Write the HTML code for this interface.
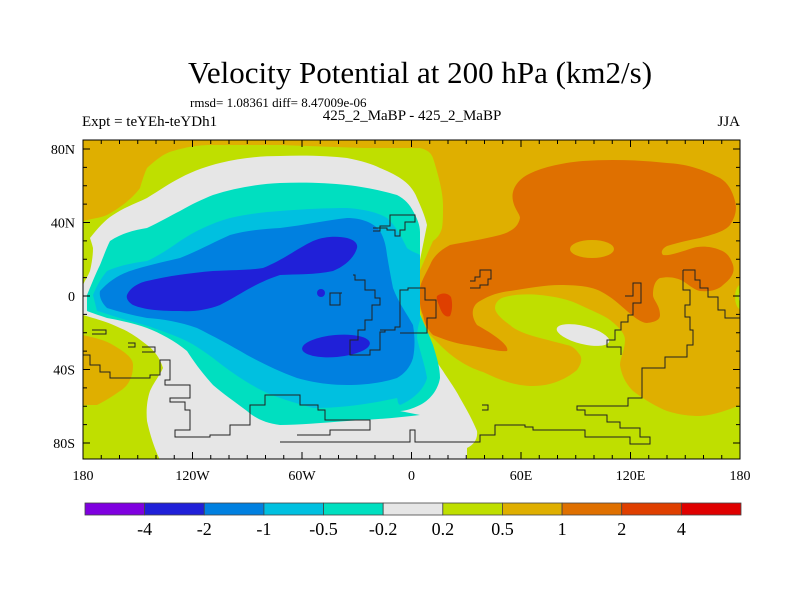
<!DOCTYPE html>
<html><head><meta charset="utf-8"><style>
html,body{margin:0;padding:0;background:#fff;}
svg{display:block;font-family:"Liberation Serif",serif;}
</style></head><body>
<svg id="chart" width="800" height="600" viewBox="0 0 800 600" xmlns="http://www.w3.org/2000/svg">
<text x="420" y="83" font-size="31" text-anchor="middle">Velocity Potential at 200 hPa (km2/s)</text>
<text x="190" y="107" font-size="13">rmsd= 1.08361 diff= 8.47009e-06</text>
<text x="82" y="126" font-size="15">Expt = teYEh-teYDh1</text>
<text x="412" y="120" font-size="15" text-anchor="middle">425_2_MaBP - 425_2_MaBP</text>
<text x="740" y="126" font-size="15" text-anchor="end">JJA</text>
<defs><clipPath id="pc"><rect x="83" y="140" width="657" height="319"/></clipPath></defs>
<g id="map" clip-path="url(#pc)">
<rect x="83" y="140" width="657" height="319" fill="#DFAF00"/>
<path fill="#BFDF00" d="M83,221 C95,218 100,218 107,215 C125,205 135,195 140,188 C143,178 145,172 147,168 C158,158 165,153 173,151 C190,146 200,145 213,145 L280,145 L363,148 L420,148 C428,150 431,153 433,158 C440,180 443,195 443,205 C443,215 443,222 442,228 C440,235 437,238 433,241 L418,275 L418,300 L425,330 L440,345 C455,360 470,368 483,372 C500,380 515,386 533,386 C550,386 565,380 577,370 C582,363 582,358 580,355 C575,348 572,346 567,345 C555,342 548,340 540,338 C525,334 515,330 510,325 C500,318 495,312 495,308 C495,302 500,298 505,297 C515,294 530,294 540,295 C560,297 572,301 580,305 C595,312 605,316 610,320 C620,328 625,334 625,340 C625,350 620,358 620,365 C622,378 628,386 633,391 C645,400 655,406 667,411 C680,415 690,416 700,416 C715,415 728,410 740,405 L740,460 L83,460 Z"/>
<path fill="#DFAF00" d="M83,335 C95,338 105,340 113,345 C125,352 133,358 133,365 C133,378 128,386 120,391 C110,398 103,402 97,405 L83,405 Z"/>
<path fill="#DF7000" d="M433,335 C450,342 460,344 467,345 C485,348 500,352 507,351 C510,346 495,335 477,325 C470,315 472,305 480,301 C490,295 500,292 510,291 C530,288 545,285 560,285 C580,285 592,287 600,291 C612,297 620,305 627,311 C635,318 642,323 647,323 C655,322 660,320 660,315 C660,305 653,300 653,295 C653,285 656,280 660,278 C670,276 677,278 683,281 C690,286 695,290 700,291 C710,292 718,290 723,285 C732,278 735,272 733,265 C730,256 726,252 720,250 C710,246 700,246 693,248 C680,252 670,256 663,255 C660,252 663,248 667,246 C680,242 690,240 700,238 C715,234 725,231 730,225 C736,216 737,208 735,201 C732,190 728,183 720,178 C700,168 685,164 667,163 C640,160 610,159 583,161 C560,163 540,168 527,175 C515,182 511,192 513,201 C515,210 520,214 520,218 C518,228 510,232 500,235 C480,240 465,242 450,245 C440,250 433,257 430,265 C425,275 421,282 420,288 C419,300 420,308 423,315 C425,325 428,330 433,335 Z"/>
<ellipse cx="592" cy="249" rx="22" ry="9" fill="#DFAF00"/>
<ellipse cx="583" cy="335" rx="27" ry="9" transform="rotate(14 583 335)" fill="#E6E6E6"/>
<path fill="#DF3F00" d="M437,296 C442,292 448,293 451,297 C453,304 452,312 450,316 C446,318 442,314 440,308 C438,302 436,299 437,296 Z"/>
<ellipse cx="742" cy="297" rx="7" ry="13" fill="#BFDF00"/>
<ellipse cx="743" cy="297" rx="4" ry="9" fill="#E6E6E6"/>
<path fill="#E6E6E6" d="M90,238 C98,228 105,220 113,215 C125,207 137,203 147,198 C160,190 170,183 180,178 C195,170 208,166 220,163 C240,158 260,156 280,156 C305,155 330,156 347,158 C362,161 372,164 380,168 C390,172 397,176 400,178 C408,183 414,190 417,198 C421,207 425,216 427,225 L420,260 L413,291 C415,310 417,322 420,331 C428,348 436,361 443,371 C450,382 456,390 460,398 C467,410 473,421 477,431 C478,440 473,445 467,448 L467,460 L160,460 C155,450 150,435 147,421 C146,410 147,400 150,391 C154,382 160,375 163,368 C160,358 154,350 147,345 C138,338 130,332 120,328 C110,323 100,320 93,318 L83,315 L83,285 C85,280 88,276 90,271 C92,262 93,255 93,248 C92,244 91,241 90,238 Z"/>
<path fill="#00DFC0" d="M87,295 C92,283 96,273 100,265 C104,255 107,247 110,241 C122,233 135,230 147,228 C160,222 170,216 180,211 C192,204 203,199 213,195 C235,188 258,184 280,183 C305,182 328,183 347,185 C365,187 383,191 397,195 C405,199 410,205 413,211 C417,218 420,225 420,232 L420,278 L413,298 C420,315 428,332 433,345 C437,358 440,368 440,378 C438,390 430,400 420,405 C412,409 405,411 400,411 L420,415 C395,418 370,420 347,421 C320,423 298,425 280,425 C265,423 255,418 247,411 C235,402 222,393 213,385 C203,374 194,362 187,351 C175,341 160,333 147,328 C133,323 118,320 107,318 C98,315 92,313 87,311 Z"/>
<path fill="#00C0E0" d="M93,295 C97,285 102,277 107,271 C118,266 132,263 147,261 C160,255 170,248 180,241 C195,231 212,223 230,218 C248,214 265,212 280,211 C305,209 328,208 347,208 C362,209 377,212 387,218 C396,226 402,238 407,248 C412,252 417,253 420,255 L420,320 C418,326 417,332 417,338 C420,352 425,365 427,378 C424,390 412,400 400,405 C397,403 398,400 397,398 C370,404 340,408 313,408 C292,402 275,397 263,391 C245,382 228,370 213,358 C202,350 192,343 180,338 C163,331 146,325 130,321 C115,317 105,313 97,311 Z"/>
<path fill="#0080E0" d="M100,291 C108,282 118,275 130,271 C145,266 163,262 180,258 C198,251 214,242 230,235 C248,230 265,229 280,228 C305,225 328,220 347,218 C362,218 374,223 380,231 C385,240 386,247 387,255 C389,267 391,278 393,288 C398,302 407,314 413,325 C415,337 415,348 413,358 C410,368 404,374 397,378 C382,383 364,385 347,385 C328,385 311,382 297,378 C278,371 262,363 247,355 C230,345 213,336 197,328 C180,322 163,319 147,318 C130,315 117,311 107,308 C101,302 99,296 100,291 Z"/>
<path fill="#2020D8" d="M127,295 C130,288 138,283 147,281 C168,276 190,273 213,271 C235,270 250,270 263,268 C283,260 298,248 313,241 C325,236 338,236 347,238 C355,240 358,244 357,248 C354,258 345,266 333,271 C315,275 297,274 280,275 C255,283 238,296 220,305 C207,310 193,312 180,311 C160,311 145,310 133,305 C128,302 126,298 127,295 Z"/>
<ellipse cx="336" cy="346" rx="34" ry="11" transform="rotate(-5 336 346)" fill="#2020D8"/>
<circle cx="321" cy="293" r="4" fill="#2020D8"/>
<g fill="none" stroke="#222" stroke-width="1">
<polyline points="373,231 380,231 380,226 390,226 390,215 415,215 415,222 405,222 405,230 400,230 400,236 395,236 395,230 387,230 387,228 373,228"/>
<polyline points="353,275 355,275 355,280 365,280 365,290 375,290 375,298 380,298 380,305 372,305 372,320 365,320 365,330 358,330 358,340 350,340 350,355 370,355 370,350 380,350 380,332 385,332 385,330"/>
<polyline points="342,293 340,293 340,305 330,305 330,293 342,293"/>
<polyline points="380,330 395,330 395,327 400,327 400,290 408,290 408,288 425,288 425,300 436,300 436,318 427,318 427,333 400,333"/>
<polyline points="470,281 475,281 475,277 480,277 480,270 491,270 491,279 488,279 488,285 480,285 480,288 470,288 Z"/>
<polyline points="625,296 633,296 633,283 641,283 641,303 633,303 633,315 628,315 628,322 621,322 621,330 615,330 615,340 607,340 607,347 621,347 621,355"/>
<polyline points="683,270 695,270 695,280 700,280 700,288 708,288 708,297 718,297 718,310 725,310 725,318 740,318"/>
<polyline points="683,270 683,290 690,290 690,305 685,305 685,317 690,317 690,330 693,330 693,345 687,345 687,357 665,357 665,368 642,368 642,398 628,398 628,406 577,406 577,410 585,410 585,415 607,415 607,422 620,422 620,428 640,428 640,437 650,437 650,444 630,444 630,437 585,437 585,430 533,430 533,427 525,427 525,425 495,425 495,435 480,435 480,442 415,442 415,430 410,430 410,442 280,442"/>
<polyline points="82,355 90,355 90,365 100,365 100,372 110,372 110,378 150,378 150,375 160,375 160,360 170,360 170,380 165,380 165,385 190,385 190,398 170,398 170,402 185,402 185,410 190,410 190,430 175,430 175,437 210,437 210,435 230,435 230,425 250,425 250,405 265,405 265,395 300,395 300,405 318,405 318,410 325,410 325,420 370,420 370,430 330,430 330,435 297,435"/>
<polyline points="92,330 106,330 106,334 92,334 Z"/>
<polyline points="128,343 135,343 135,347 128,347 Z"/>
<polyline points="142,347 155,347 155,352 142,352 Z"/>
<polyline points="482,405 488,405 488,410 482,410 Z"/>
</g>
</g>
<rect x="83" y="140" width="657" height="319" fill="none" stroke="#000" stroke-width="1"/>
<g id="axes"></g>
<g id="colorbar"></g>
<script>
const lonTickValues = [-180, -120, -60, 0, 60, 120, 180];
const lonTickLabels = ["180", "120W", "60W", "0", "60E", "120E", "180"];
const latTickValues = [80, 40, 0, -40, -80];
const latTickLabels = ["80N", "40N", "0", "40S", "80S"];
const cbLevels = ["-4", "-2", "-1", "-0.5", "-0.2", "0.2", "0.5", "1", "2", "4"];
const cbColors = ["#7F00DF", "#2020D8", "#0080E0", "#00C0E0", "#00DFC0", "#E6E6E6", "#BFDF00", "#DFAF00", "#DF7000", "#DF3F00", "#DF0000"];
const NS = "http://www.w3.org/2000/svg";
const x0 = 83, x1 = 740, y0 = 140, y1 = 459;
const xs = lon => x0 + (lon + 180) / 360 * (x1 - x0);
const ys = lat => 296 - lat * 1.8375;
function mk(tag, attrs, parent) {
  const e = document.createElementNS(NS, tag);
  for (const k in attrs) e.setAttribute(k, attrs[k]);
  parent.appendChild(e);
  return e;
}
const ax = document.getElementById("axes");
for (let lon = -180; lon <= 180; lon += 10) {
  const major = lon % 60 === 0;
  const len = major ? 7 : 4;
  const t1 = mk("line", {x1: xs(lon), x2: xs(lon), y1: y1, y2: y1 - len, stroke: "#000"}, ax);
  
  
  const t2 = mk("line", {x1: xs(lon), x2: xs(lon), y1: y0, y2: y0 + len, stroke: "#000"}, ax);
  
  
}
for (let lat = -80; lat <= 80; lat += 10) {
  const major = lat % 40 === 0;
  const len = major ? 7 : 4;
  const t1 = mk("line", {x1: x0, x2: x0 + len, y1: ys(lat), y2: ys(lat), stroke: "#000"}, ax);
  
  
  const t2 = mk("line", {x1: x1, x2: x1 - len, y1: ys(lat), y2: ys(lat), stroke: "#000"}, ax);
  
  
}
lonTickValues.forEach((v, i) => {
  const t = mk("text", {x: xs(v), y: 480, "font-size": 14, "text-anchor": "middle"}, ax);
  
  
  t.textContent = lonTickLabels[i];
});
latTickValues.forEach((v, i) => {
  const t = mk("text", {x: 75, y: ys(v) + 5, "font-size": 14, "text-anchor": "end"}, ax);
  
  
  t.textContent = latTickLabels[i];
});
const cb = document.getElementById("colorbar");
const cbX0 = 85, cbX1 = 741, cbY = 503, cbH = 12;
const bw = (cbX1 - cbX0) / cbColors.length;
cbColors.forEach((c, i) => {
  const r = mk("rect", {x: cbX0 + i * bw, y: cbY, width: bw, height: cbH, fill: c, stroke: "#444", "stroke-width": 0.8}, cb);
  
  
});
cbLevels.forEach((l, i) => {
  const t = mk("text", {x: cbX0 + (i + 1) * bw, y: 535, "font-size": 18, "text-anchor": "middle"}, cb);
  
  
  t.textContent = l;
});
</script>
</svg>
</body></html>
